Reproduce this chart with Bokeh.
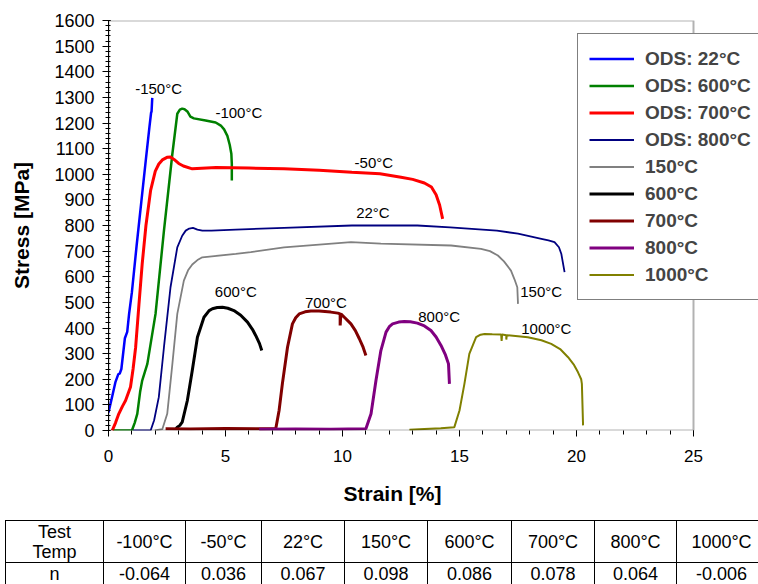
from bokeh.plotting import figure
from bokeh.models import Range1d, Legend, LegendItem, FixedTicker, BoxAnnotation, Title, Div
from bokeh.layouts import column
from bokeh.embed import file_html
from bokeh.resources import INLINE
from bokeh.core.properties import value

FONT = "Liberation Sans"

# ---------------- data (strain %, stress MPa) ----------------
ods22_x = [0.0, 0.15, 0.3, 0.42, 0.48, 0.55, 0.7, 0.8, 0.88, 1.0, 1.2, 1.4, 1.6, 1.75, 1.82, 1.84, 1.87]
ods22_y = [70, 130, 190, 220, 222, 240, 360, 385, 455, 540, 720, 890, 1060, 1185, 1240, 1245, 1298]

ods600_x = [0.2, 1.0, 1.12, 1.23, 1.35, 1.44, 1.66, 2.01, 2.37, 2.73, 2.94, 3.05, 3.15, 3.25, 3.37,
            3.5, 3.65, 4.15, 4.58, 4.8, 4.94, 5.08, 5.18, 5.25, 5.27, 5.27]
ods600_y = [0, 0, 30, 65, 150, 195, 260, 455, 780, 1080, 1236, 1252, 1256, 1254, 1245,
            1225, 1218, 1210, 1202, 1190, 1175, 1150, 1115, 1080, 1040, 976]

ods700_x = [0.16, 0.3, 0.44, 0.6, 0.73, 0.94, 1.05, 1.16, 1.3, 1.44, 1.6, 1.8, 2.0, 2.15, 2.3, 2.5,
            2.65, 2.8, 3.0, 3.2, 3.58, 4.6, 6.0, 7.5, 9.0, 10.4, 11.6, 12.5, 13.0, 13.5, 13.8,
            14.0, 14.15, 14.28]
ods700_y = [0, 30, 65, 95, 117, 170, 240, 325, 490, 650, 800, 937, 1012, 1040, 1056, 1066,
            1067, 1058, 1042, 1032, 1021, 1026, 1024, 1021, 1016, 1008, 1002, 988, 980, 966, 950,
            920, 880, 826]

ods800_x = [1.05, 1.8, 1.95, 2.15, 2.37, 2.65, 2.94, 3.15, 3.3, 3.45, 3.61, 3.8, 4.01, 4.4, 5.44,
            7.5, 10.4, 13.2, 14.6, 16.6, 17.5, 18.5, 18.8, 19.06, 19.25, 19.35, 19.49]
ods800_y = [0, 0, 40, 130, 325, 559, 715, 760, 780, 788, 791, 784, 780, 780, 784,
            791, 800, 800, 793, 780, 768, 748, 742, 735, 715, 690, 618]

t150_x = [1.98, 2.3, 2.51, 2.73, 2.94, 3.22, 3.4, 3.58, 3.8, 4.01, 5.44, 6.08, 7.5, 10.36, 11.64,
          14.64, 15.92, 16.3, 16.64, 16.9, 17.2, 17.35, 17.47, 17.5]
t150_y = [0, 5, 65, 260, 455, 585, 625, 648, 665, 676, 689, 696, 715, 735, 729,
          722, 709, 700, 683, 660, 624, 590, 559, 494]

t600_x = [2.88, 2.94, 3.05, 3.15, 3.37, 3.58, 3.8, 4.08, 4.3, 4.44, 4.65, 4.87, 5.1, 5.36, 5.65,
          5.94, 6.15, 6.29, 6.45, 6.55]
t600_y = [5, 13, 20, 33, 117, 234, 364, 442, 468, 475, 480, 481, 477, 468, 450,
          423, 395, 371, 340, 312]

t700_x = [2.44, 3.5, 5.0, 6.5, 7.15, 7.29, 7.43, 7.65, 7.86, 8.0, 8.15, 8.4, 8.65, 9.0, 9.5, 9.8,
          9.9, 9.9, 9.93, 10.1, 10.36, 10.55, 10.72, 10.88, 11.0]
t700_y = [7, 6, 8, 7, 8, 78, 182, 325, 416, 440, 455, 463, 466, 466, 462, 458,
          455, 410, 455, 440, 416, 390, 358, 325, 293]

t800_x = [6.44, 8.0, 9.5, 11.0, 11.22, 11.43, 11.64, 11.86, 12.0, 12.14, 12.4, 12.64, 12.9, 13.2,
          13.5, 13.78, 14.0, 14.21, 14.4, 14.53, 14.57]
t800_y = [5, 6, 5, 7, 65, 195, 312, 384, 405, 416, 423, 425, 424, 419,
          408, 390, 365, 332, 295, 260, 182]

t1000_x = [12.86, 13.5, 14.2, 14.78, 15.0, 15.21, 15.42, 15.71, 15.9, 16.07, 16.4, 16.78, 16.8,
           16.82, 17.0, 17.0, 17.02, 17.5, 17.92, 18.5, 18.92, 19.3, 19.64, 19.9, 20.06, 20.2,
           20.23, 20.28]
t1000_y = [3, 6, 9, 13, 78, 182, 299, 364, 374, 377, 376, 375, 350,
           375, 372, 355, 372, 368, 364, 352, 338, 318, 286, 255, 228, 200,
           182, 20]

legend_labels = ["ODS: 22°C", "ODS: 600°C", "ODS: 700°C", "ODS: 800°C",
                 "150°C", "600°C", "700°C", "800°C", "1000°C"]
series_x = [ods22_x, ods600_x, ods700_x, ods800_x, t150_x, t600_x, t700_x, t800_x, t1000_x]
series_y = [ods22_y, ods600_y, ods700_y, ods800_y, t150_y, t600_y, t700_y, t800_y, t1000_y]

curve_labels = ["-150°C", "-100°C", "-50°C", "22°C", "150°C", "600°C", "700°C", "800°C", "1000°C"]
curve_label_x = [2.14, 5.57, 11.34, 11.3, 18.49, 5.44, 9.29, 14.13, 18.71]
curve_label_y = [1335, 1241, 1046, 851, 542, 542, 500, 445, 398]

x_min, x_max = 0, 25
y_min, y_max = 0, 1600
x_ticks = [0, 5, 10, 15, 20, 25]
y_ticks = list(range(0, 1601, 100))

table_temps = ["-100°C", "-50°C", "22°C", "150°C", "600°C", "700°C", "800°C", "1000°C"]
table_n = ["-0.064", "0.036", "0.067", "0.098", "0.086", "0.078", "0.064", "-0.006"]

# ---------------- styles ----------------
colors = ["#0000FF", "#008000", "#FF0000", "#000080", "#808080", "#000000", "#800000", "#800080", "#808000"]
widths = [2.5, 2.5, 3, 1.8, 1.8, 3, 3, 3, 2]

# frame: 585 px wide for the 0..25 range, extended to the canvas edge so the legend can overflow
FRAME_PX = 585
CANVAS_W = 758
LEFT = 108
x_end = x_max * (CANVAS_W - LEFT) / FRAME_PX

p = figure(width=CANVAS_W, height=520, x_range=Range1d(x_min, x_end), y_range=Range1d(y_min, y_max),
           output_backend="svg", toolbar_location=None,
           min_border_left=LEFT, min_border_right=0, min_border_top=20, min_border_bottom=90)
p.grid.visible = False
p.outline_line_color = None
p.background_fill_color = "white"
p.border_fill_color = "white"

p.xaxis.ticker = FixedTicker(ticks=x_ticks, minor_ticks=list(range(0, 26)))
p.yaxis.ticker = FixedTicker(ticks=y_ticks, minor_ticks=list(range(0, 1601, 20)))

for ax in (p.xaxis[0], p.yaxis[0]):
    ax.axis_line_color = "black"
    ax.major_tick_line_color = "black"
    ax.minor_tick_line_color = "black"
    ax.major_label_text_font = FONT
    ax.major_label_text_color = "black"
    ax.axis_label_text_font = FONT
    ax.axis_label_text_font_style = "bold"
    ax.axis_label_text_color = "black"
    ax.axis_label_text_font_size = "21px"

p.xaxis.axis_line_color = None
p.xaxis.major_tick_out = 6
p.xaxis.major_tick_in = 0
p.xaxis.minor_tick_out = 4
p.xaxis.minor_tick_in = 0
p.xaxis.major_label_text_font_size = "17px"
p.xaxis.major_label_standoff = 13

p.yaxis.axis_label = "Stress [MPa]"
p.yaxis.major_tick_out = 6
p.yaxis.major_tick_in = 2
p.yaxis.minor_tick_out = 3
p.yaxis.minor_tick_in = 2
p.yaxis.major_label_text_font_size = "18px"
p.yaxis.major_label_standoff = 8
p.yaxis.axis_label_standoff = 18

# plot box over the 0..25 x 0..1600 area
p.add_layout(BoxAnnotation(left=x_min, right=x_max, bottom=y_min, top=y_max,
                           fill_alpha=0, line_color="black", line_width=2))

# x axis title, centred under the 0..25 area
xt = Title(text="Strain [%]", align="left", offset=235, text_font=FONT, text_font_style="bold",
           text_font_size="21px", text_color="black", standoff=31)
p.add_layout(xt, "below")

items = []
for lab, xs, ys, c, w in zip(legend_labels, series_x, series_y, colors, widths):
    r = p.line(xs, ys, line_color=c, line_width=w)
    items.append(LegendItem(label=lab, renderers=[r]))

p.text(x=curve_label_x, y=curve_label_y, text=curve_labels, text_font=value(FONT),
       text_font_size="15px", text_align="center", text_baseline="middle", text_color="black")

legend = Legend(items=items, location=(469, 130), border_line_color="black", border_line_width=1.5,
                label_text_font=FONT, label_text_font_style="bold", label_text_font_size="19px",
                glyph_width=45, glyph_height=27, label_height=27, spacing=0, padding=11,
                label_standoff=11, margin=0, background_fill_color="white", background_fill_alpha=1)
p.add_layout(legend)

# ---------------- table (HTML) ----------------
col_widths = [98, 82, 76, 83, 83, 84, 83, 82, 90]
cell = ("border:1px solid black;text-align:center;vertical-align:middle;padding:0;"
        "line-height:20px;")
colgroup = "".join(f'<col style="width:{w}px">' for w in col_widths)
row1 = f'<tr><td style="{cell}height:42px;">Test<br>Temp</td>' + "".join(
    f'<td style="{cell}height:42px;">{s}</td>' for s in table_temps) + "</tr>"
row2 = f'<tr><td style="{cell}height:26px;vertical-align:top;padding-top:1px;">n</td>' + "".join(
    f'<td style="{cell}height:26px;vertical-align:top;padding-top:1px;">{s}</td>' for s in table_n) + "</tr>"
html = ('<div style="width:758px;height:64px;overflow:hidden;position:relative;background:white;">'
        '<table style="position:absolute;left:5px;top:0px;border-collapse:collapse;table-layout:fixed;'
        "font-family:'Liberation Sans',Arial,sans-serif;font-size:18px;color:black;width:"
        f'{sum(col_widths)}px;">' + colgroup + row1 + row2 + "</table></div>")
table = Div(text=html, width=758, height=64, margin=0)

layout = column(p, table, spacing=0)
open("out.html", "w").write(file_html(layout, INLINE))
